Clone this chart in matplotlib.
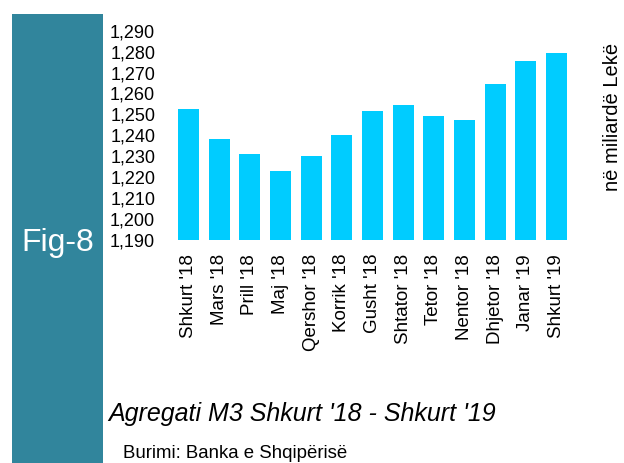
import matplotlib
matplotlib.use("Agg")
import matplotlib.pyplot as plt
from matplotlib.patches import Rectangle
from matplotlib.ticker import FuncFormatter

categories = ["Shkurt '18", "Mars '18", "Prill '18", "Maj '18", "Qershor '18", "Korrik '18",
              "Gusht '18", "Shtator '18", "Tetor '18", "Nentor '18", "Dhjetor '18", "Janar '19", "Shkurt '19"]
values = [1252.6, 1238.1, 1231.1, 1223.0, 1230.1, 1240.0, 1251.8, 1254.5, 1249.2, 1247.3, 1264.5, 1275.5, 1279.3]
yticks = [1190, 1200, 1210, 1220, 1230, 1240, 1250, 1260, 1270, 1280, 1290]

FONT = ["Liberation Sans", "DejaVu Sans"]
plt.rcParams['font.family'] = FONT

fig = plt.figure(figsize=(6.24, 4.63), dpi=100)

# teal band
fig.patches.append(Rectangle((12/624, 0), 91/624, 1 - 14/463, transform=fig.transFigure,
                             facecolor="#31859C", edgecolor="none", zorder=0))
fig.text(58/624, 1 - 243/463, "Fig-8", color="white", fontsize=23, ha="center", va="center")

ax = fig.add_axes([173.2/624, 1 - 240/463, (571.8 - 173.2)/624, (240 - 30.7)/463])
x = list(range(len(categories)))
ax.bar(x, [v - yticks[0] for v in values], bottom=yticks[0], width=0.69, color="#00CCFF")
ax.set_ylim(yticks[0], yticks[-1])
ax.set_xlim(-0.5, len(categories) - 0.5)
ax.set_yticks(yticks)
ax.yaxis.set_major_formatter(FuncFormatter(lambda v, p: f"{int(v):,}"))
ax.set_xticks(x)
ax.set_xticklabels(categories, rotation=90, fontsize=13.5)
ax.tick_params(axis="y", labelsize=13, length=0, pad=13)
ax.tick_params(axis="x", length=0, pad=10)
for s in ax.spines.values():
    s.set_visible(False)
ax.patch.set_alpha(0)

fig.text(612/624, 1 - 117/463, "në miliardë Lekë", rotation=90, ha="center", va="center", fontsize=14.5)

fig.text(108/624, 1 - 414/463, "Agregati M3 Shkurt '18 - Shkurt '19", style="italic", fontsize=18,
         ha="left", va="center")
fig.text(123/624, 1 - 453/463, "Burimi: Banka e Shqipërisë", fontsize=13.4, ha="left", va="center")

fig.savefig("out.png", dpi=100)
